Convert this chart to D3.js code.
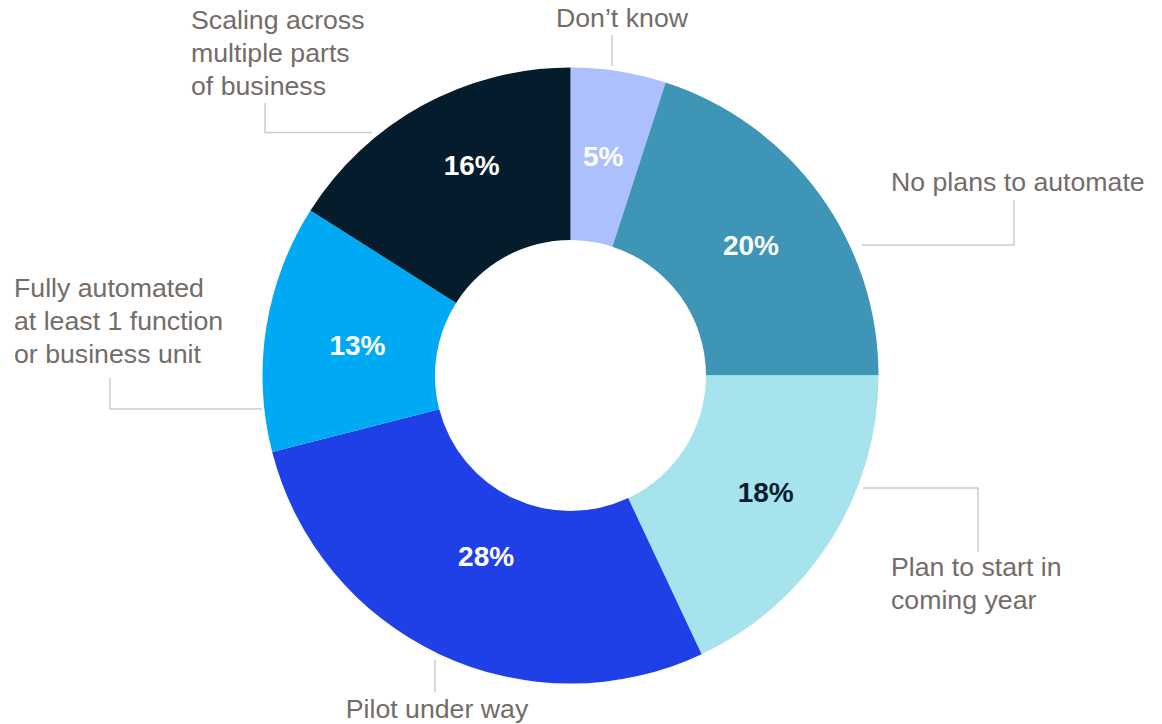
<!DOCTYPE html>
<html>
<head>
<meta charset="utf-8">
<script src="https://cdn.jsdelivr.net/npm/d3@7/dist/d3.min.js"></script>
<style>
  html, body { margin: 0; padding: 0; background: #ffffff; }
  svg { display: block; }
</style>
</head>
<body>
<svg id="chart" width="1162" height="724"></svg>
<script>
// ---- Data ----
const categories = [
  "Don’t know",
  "No plans to automate",
  "Plan to start in coming year",
  "Pilot under way",
  "Fully automated at least 1 function or business unit",
  "Scaling across multiple parts of business"
];
const values = [5, 20, 18, 28, 13, 16];
const labelLines = [
  ["Don’t know"],
  ["No plans to automate"],
  ["Plan to start in", "coming year"],
  ["Pilot under way"],
  ["Fully automated", "at least 1 function", "or business unit"],
  ["Scaling across", "multiple parts", "of business"]
];

// ---- Styles / layout ----
const colors = ["#abc0fc", "#3e95b5", "#a6e3ed", "#1f40e6", "#00a9f4", "#051c2c"];
const pctColors = ["#ffffff", "#ffffff", "#051c2c", "#ffffff", "#ffffff", "#ffffff"];
const cx = 570.5, cy = 375.5, outerR = 308, innerR = 135.5;
// nudges of the percentage labels from the arc centroid
const pctNudge = [[-2, 0], [1, 0], [8, -2], [10, -20], [6, 5], [8, -16]];
// outside label placement: x, first baseline, anchor
const labelPos = [
  {x: 622, y: 27, anchor: "middle"},
  {x: 891, y: 191, anchor: "start"},
  {x: 891, y: 576, anchor: "start"},
  {x: 437, y: 718, anchor: "middle"},
  {x: 14, y: 297, anchor: "start"},
  {x: 191, y: 29, anchor: "start"}
];
// leader lines
const leaders = [
  [[612, 35], [612, 66]],
  [[1014, 200], [1014, 245], [862, 245]],
  [[863, 488], [978, 488], [978, 552]],
  [[435, 660], [435, 692]],
  [[110, 378], [110, 409], [262, 409]],
  [[265, 103], [265, 132.5], [372, 132.5]]
];
const lineH = 33;

const svg = d3.select("#chart");
const g = svg.append("g").attr("transform", `translate(${cx},${cy})`);

const pie = d3.pie().sort(null).value(d => d.value).startAngle(0).endAngle(2 * Math.PI);
const data = categories.map((c, i) => ({name: c, value: values[i], i}));
const arcs = pie(data);
const arc = d3.arc().innerRadius(innerR).outerRadius(outerR);

g.selectAll("path.slice")
  .data(arcs)
  .join("path")
  .attr("class", "slice")
  .attr("d", arc)
  .attr("fill", d => colors[d.data.i]);

g.selectAll("text.pct")
  .data(arcs)
  .join("text")
  .attr("class", "pct")
  .attr("x", d => arc.centroid(d)[0] + pctNudge[d.data.i][0])
  .attr("y", d => arc.centroid(d)[1] + pctNudge[d.data.i][1])
  .attr("text-anchor", "middle")
  .attr("dominant-baseline", "central")
  .attr("font-family", "'Liberation Sans', Arial, sans-serif")
  .attr("font-weight", "bold")
  .attr("font-size", 28)
  .attr("fill", d => pctColors[d.data.i])
  .text(d => d.data.value + "%");

// leader lines
const line = d3.line();
svg.selectAll("path.leader")
  .data(leaders)
  .join("path")
  .attr("class", "leader")
  .attr("d", d => line(d))
  .attr("fill", "none")
  .attr("stroke", "#cccccc")
  .attr("stroke-width", 1.5);

// outside labels
const lab = svg.selectAll("text.lab")
  .data(labelLines)
  .join("text")
  .attr("class", "lab")
  .attr("text-anchor", (d, i) => labelPos[i].anchor)
  .attr("font-family", "'Liberation Sans', Arial, sans-serif")
  .attr("font-size", 26.7)
  .attr("fill", "#736c67");

lab.each(function(lines, i) {
  const t = d3.select(this);
  lines.forEach((s, k) => {
    t.append("tspan")
      .attr("x", labelPos[i].x)
      .attr("y", labelPos[i].y + k * lineH)
      .text(s);
  });
});
</script>
</body>
</html>
